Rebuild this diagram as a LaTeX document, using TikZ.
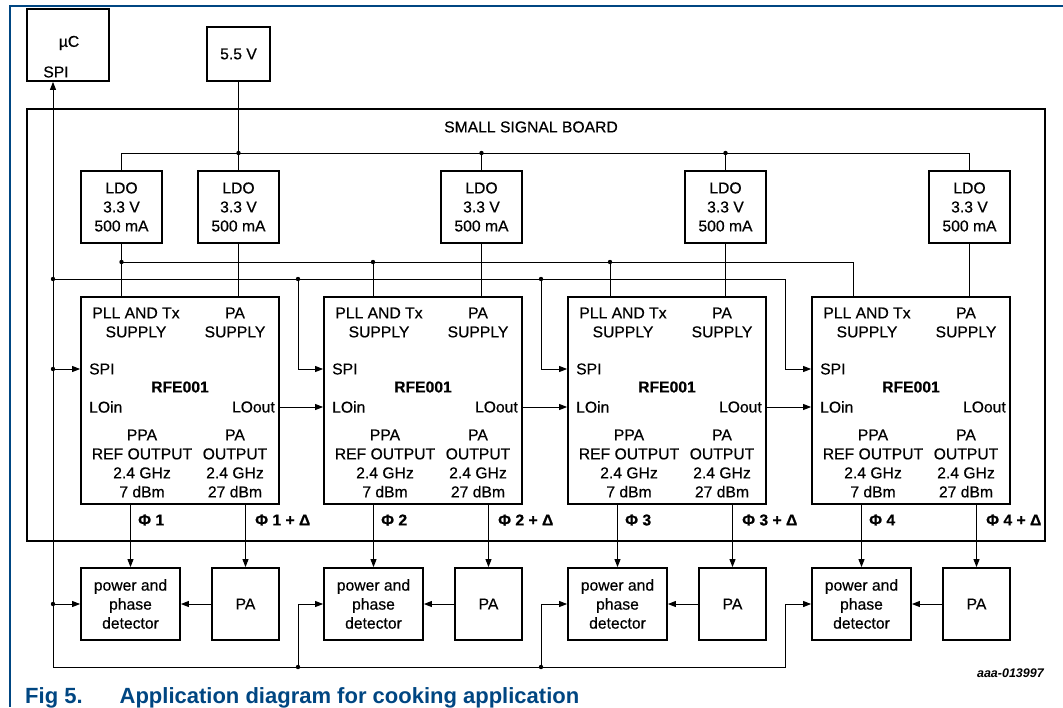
\documentclass[tikz,border=0pt]{standalone}
\usepackage{fontspec}
\setmainfont{Liberation Sans}
\newfontfamily\diagfont{Liberation Sans}[FakeBold=0.5]
\usetikzlibrary{arrows.meta}
\definecolor{figblue}{RGB}{0,70,130}
\begin{document}
\begin{tikzpicture}[x=1pt,y=-1pt,
    every node/.style={inner sep=0pt,align=center,font=\diagfont\fontsize{15.7}{19}\selectfont},
    blk/.style={draw,line width=1.8pt},
    ldobox/.style={blk,minimum width=81pt,minimum height=72pt},
    rfebox/.style={blk,minimum width=198pt,minimum height=207pt},
    detbox/.style={blk,minimum width=99pt,minimum height=72pt},
    pabox/.style={blk,minimum width=67pt,minimum height=72pt},
    chipname/.style={font=\diagfont\fontsize{15.7}{19}\selectfont\bfseries},
    phase/.style={anchor=west,font=\diagfont\fontsize{15.7}{19}\selectfont\bfseries},
    wire/.style={line width=1pt},
    sig/.style={-{Triangle[length=8pt,width=6pt]}}]
  \useasboundingbox (0,0) rectangle (1063,707);
  \draw[figblue,line width=2pt] (1063,6) -- (10,6) -- (10,707);
  \draw
    (536,325) node[blk,minimum width=1018pt,minimum height=432pt] (board){}
    (531,127) node (boardname){SMALL SIGNAL BOARD}
    (68,45) node[blk,minimum width=82pt,minimum height=72pt] (uc){}
    (69,43) node (ucname){µC}
    (56,72) node (ucspi){SPI}
    (238.5,54) node[blk,minimum width=63pt,minimum height=54pt] (vsup){5.5 V}
    (121.5,207) node[ldobox] (ldo1){LDO\\3.3 V\\500 mA}
    (238.5,207) node[ldobox] (ldo2){LDO\\3.3 V\\500 mA}
    (481.5,207) node[ldobox] (ldo3){LDO\\3.3 V\\500 mA}
    (725.5,207) node[ldobox] (ldo4){LDO\\3.3 V\\500 mA}
    (969.5,207) node[ldobox] (ldo5){LDO\\3.3 V\\500 mA};
  \draw
    (180,400.5) node[rfebox] (rfe1){}
    (136,322.5) node (pll1){PLL AND Tx\\SUPPLY}
    (235,322.5) node (pasup1){PA\\SUPPLY}
    (89,369) node[anchor=west] (spi1){SPI}
    (180,387) node[chipname] (chip1){RFE001}
    (89,407) node[anchor=west] (loin1){LOin}
    (275,407) node[anchor=east] (loout1){LOout}
    (142,463.5) node (ppa1){PPA\\REF OUTPUT\\2.4 GHz\\7 dBm}
    (235,463.5) node (paout1){PA\\OUTPUT\\2.4 GHz\\27 dBm};
  \draw
    (423,400.5) node[rfebox] (rfe2){}
    (379,322.5) node (pll2){PLL AND Tx\\SUPPLY}
    (478,322.5) node (pasup2){PA\\SUPPLY}
    (332,369) node[anchor=west] (spi2){SPI}
    (423,387) node[chipname] (chip2){RFE001}
    (332,407) node[anchor=west] (loin2){LOin}
    (518,407) node[anchor=east] (loout2){LOout}
    (385,463.5) node (ppa2){PPA\\REF OUTPUT\\2.4 GHz\\7 dBm}
    (478,463.5) node (paout2){PA\\OUTPUT\\2.4 GHz\\27 dBm};
  \draw
    (667,400.5) node[rfebox] (rfe3){}
    (623,322.5) node (pll3){PLL AND Tx\\SUPPLY}
    (722,322.5) node (pasup3){PA\\SUPPLY}
    (576,369) node[anchor=west] (spi3){SPI}
    (667,387) node[chipname] (chip3){RFE001}
    (576,407) node[anchor=west] (loin3){LOin}
    (762,407) node[anchor=east] (loout3){LOout}
    (629,463.5) node (ppa3){PPA\\REF OUTPUT\\2.4 GHz\\7 dBm}
    (722,463.5) node (paout3){PA\\OUTPUT\\2.4 GHz\\27 dBm};
  \draw
    (911,400.5) node[rfebox] (rfe4){}
    (867,322.5) node (pll4){PLL AND Tx\\SUPPLY}
    (966,322.5) node (pasup4){PA\\SUPPLY}
    (820,369) node[anchor=west] (spi4){SPI}
    (911,387) node[chipname] (chip4){RFE001}
    (820,407) node[anchor=west] (loin4){LOin}
    (1006,407) node[anchor=east] (loout4){LOout}
    (873,463.5) node (ppa4){PPA\\REF OUTPUT\\2.4 GHz\\7 dBm}
    (966,463.5) node (paout4){PA\\OUTPUT\\2.4 GHz\\27 dBm};
  \draw
    (130.5,604) node[detbox] (det1){power and\\phase\\detector}
    (373.5,604) node[detbox] (det2){power and\\phase\\detector}
    (617.5,604) node[detbox] (det3){power and\\phase\\detector}
    (861.5,604) node[detbox] (det4){power and\\phase\\detector}
    (245.5,604) node[pabox] (pa1){PA}
    (488.5,604) node[pabox] (pa2){PA}
    (732.5,604) node[pabox] (pa3){PA}
    (976.5,604) node[pabox] (pa4){PA}
    (138,520) node[phase] (phi1){Φ 1}
    (255,520) node[phase] (phd1){Φ 1 + Δ}
    (381,520) node[phase] (phi2){Φ 2}
    (498,520) node[phase] (phd2){Φ 2 + Δ}
    (625,520) node[phase] (phi3){Φ 3}
    (742,520) node[phase] (phd3){Φ 3 + Δ}
    (869,520) node[phase] (phi4){Φ 4}
    (986,520) node[phase] (phd4){Φ 4 + Δ};
  \node[anchor=base east,font=\fontsize{12.5}{15}\selectfont\bfseries\itshape] (figcode) at (1044,677) {aaa-013997};
  \node[anchor=base west,text=figblue,font=\fontsize{22}{26}\selectfont\bfseries] (caption) at (25,703) {Fig 5.\hspace{37pt}Application diagram for cooking application};
  \coordinate (vbus) at (0,153);
  \coordinate (pllbus) at (0,262);
  \coordinate (spibus) at (0,279);
  \coordinate (retbus) at (0,667);
  \coordinate (spine) at (53,0);
  \coordinate (feed2) at (298,0);
  \coordinate (feed3) at (541,0);
  \coordinate (feed4) at (785,0);
  \coordinate (plltap2) at (373,297);
  \coordinate (plltap3) at (610,297);
  \coordinate (plltap4) at (853,297);
  \begin{scope}[wire]
    \draw (vsup.south) to (ldo2.north);
    \draw (ldo1.north) |- (vbus -| ldo5.north) to (ldo5.north);
    \draw (ldo3.north |- vbus) to (ldo3.north);
    \draw (ldo4.north |- vbus) to (ldo4.north);
    \draw (ldo1.south) to (ldo1.south |- rfe1.north);
    \draw (ldo1.south |- pllbus) -| (plltap4);
    \draw (plltap2 |- pllbus) to (plltap2);
    \draw (plltap3 |- pllbus) to (plltap3);
    \draw (ldo2.south) to (ldo2.south |- rfe1.north);
    \draw (ldo3.south) to (ldo3.south |- rfe2.north);
    \draw (ldo4.south) to (ldo4.south |- rfe3.north);
    \draw (ldo5.south) to (ldo5.south |- rfe4.north);
    \draw[sig] (spine |- retbus) to (uc.south -| spine);
    \draw[sig] (spine |- spi1) to (spi1 -| rfe1.west);
    \draw[sig] (spine |- spibus) -| (feed4 |- spi4) to (spi4 -| rfe4.west);
    \draw[sig] (feed2 |- spibus) |- (spi2 -| rfe2.west);
    \draw[sig] (feed3 |- spibus) |- (spi3 -| rfe3.west);
    \draw[sig] (rfe1.east |- loout1) to (loin2 -| rfe2.west);
    \draw[sig] (rfe2.east |- loout2) to (loin3 -| rfe3.west);
    \draw[sig] (rfe3.east |- loout3) to (loin4 -| rfe4.west);
    \draw[sig] (det1.north |- rfe1.south) to (det1.north);
    \draw[sig] (pa1.north |- rfe1.south) to (pa1.north);
    \draw[sig] (det2.north |- rfe2.south) to (det2.north);
    \draw[sig] (pa2.north |- rfe2.south) to (pa2.north);
    \draw[sig] (det3.north |- rfe3.south) to (det3.north);
    \draw[sig] (pa3.north |- rfe3.south) to (pa3.north);
    \draw[sig] (det4.north |- rfe4.south) to (det4.north);
    \draw[sig] (pa4.north |- rfe4.south) to (pa4.north);
    \draw[sig] (pa1.west) to (det1.east);
    \draw[sig] (pa2.west) to (det2.east);
    \draw[sig] (pa3.west) to (det3.east);
    \draw[sig] (pa4.west) to (det4.east);
    \draw[sig] (spine |- det1) to (det1.west);
    \draw[sig] (spine |- retbus) -| (feed4 |- det4) to (det4.west);
    \draw[sig] (feed2 |- retbus) |- (det2.west);
    \draw[sig] (feed3 |- retbus) |- (det3.west);
  \end{scope}
  \fill (ldo2.north |- vbus) circle (2.2pt);
  \fill (ldo3.north |- vbus) circle (2.2pt);
  \fill (ldo4.north |- vbus) circle (2.2pt);
  \fill (ldo1.south |- pllbus) circle (2.2pt);
  \fill (plltap2 |- pllbus) circle (2.2pt);
  \fill (plltap3 |- pllbus) circle (2.2pt);
  \fill (spine |- spibus) circle (2.2pt);
  \fill (feed2 |- spibus) circle (2.2pt);
  \fill (feed3 |- spibus) circle (2.2pt);
  \fill (spine |- spi1) circle (2.2pt);
  \fill (spine |- det1) circle (2.2pt);
  \fill (feed2 |- retbus) circle (2.2pt);
  \fill (feed3 |- retbus) circle (2.2pt);
\end{tikzpicture}
\end{document}
